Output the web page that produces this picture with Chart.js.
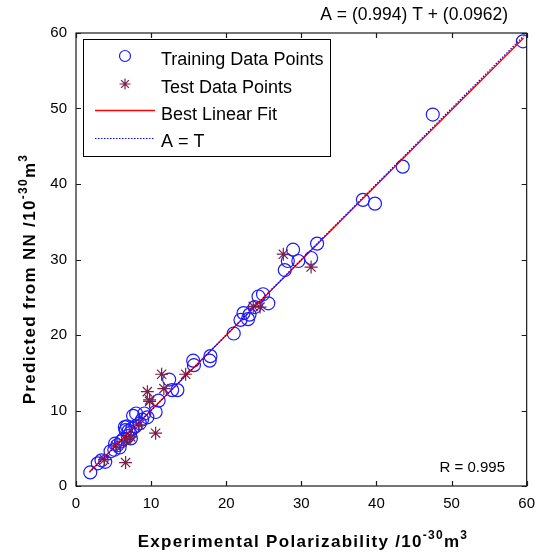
<!DOCTYPE html>
<html>
<head>
<meta charset="utf-8">
<script src="https://cdn.jsdelivr.net/npm/chart.js@4"></script>
<style>
  html, body { margin: 0; padding: 0; background: #fff; }
  #wrap { width: 544px; height: 554px; }
</style>
</head>
<body>
<div id="wrap"><canvas id="regChart" width="544" height="554"></canvas></div>
<script>
// Training data: experimental (T) vs predicted (A)
const trainT = [1.9, 2.9, 3.4, 3.9, 4.6, 5.1, 5.2, 5.5, 5.8, 6.0, 6.3, 6.5, 6.6, 6.8, 6.9, 7.0, 7.2, 7.3, 7.5, 7.6, 7.9, 8.0, 8.5, 8.8, 9.1, 9.5,
  10.6, 11.0, 12.4, 12.8, 13.5, 15.6, 15.7, 17.8, 17.9, 21.0, 21.9, 22.3, 22.9, 23.1, 23.8, 24.3, 24.9, 25.6,
  27.8, 28.2, 28.9, 29.6, 31.3, 32.1, 38.2, 39.8, 43.5, 47.5, 59.5];
const trainA = [1.8, 3.0, 3.4, 3.2, 4.6, 4.8, 5.6, 5.4, 5.1, 5.9, 6.2, 7.8, 7.4, 7.9, 6.6, 7.3, 7.0, 6.3, 7.6, 9.3, 7.9, 9.6, 8.3, 8.8, 9.6, 9.1,
  9.8, 11.3, 14.1, 12.7, 12.7, 16.6, 16.0, 16.6, 17.2, 20.2, 22.0, 22.9, 22.1, 22.7, 23.7, 25.1, 25.4, 24.2,
  28.6, 29.8, 31.3, 29.8, 30.2, 32.1, 37.9, 37.4, 42.3, 49.2, 58.9];

// Test data
const testT = [3.8, 5.3, 6.6, 6.7, 7.3, 8.4, 9.5, 9.8, 9.8, 10.6, 11.4, 11.7, 14.6, 23.6, 24.5, 27.6, 31.3];
const testA = [3.5, 5.3, 3.1, 6.1, 6.5, 8.1, 12.5, 11.4, 11.2, 7.0, 14.8, 12.9, 14.8, 23.8, 23.7, 30.7, 29.0];

// Regression result
const fitSlope = 0.994;
const fitIntercept = 0.0962;
const fitRange = [1.8, 59.6];
const rValue = 0.995;

const xTicks = [0, 10, 20, 30, 40, 50, 60];
const yTicks = [0, 10, 20, 30, 40, 50, 60];

const legendLabels = ["Training Data Points", "Test Data Points", "Best Linear Fit", "A = T"];

const FONT = "'Liberation Sans', Arial, Helvetica, sans-serif";
const trainColor = "#1a1aff";
const testColor = "#7a1f4a";

function toPoints(xs, ys) {
    return xs.map((x, i) => ({ x: x, y: ys[i] }));
}

// draw bold text with superscript pieces, centred on x
function drawRich(ctx, parts, x, y) {
    ctx.letterSpacing = "1.3px";
    let total = 0;
    parts.forEach(p => {
        ctx.font = `bold ${p.size}px ${FONT}`;
        total += ctx.measureText(p.text).width;
    });
    let cx = x - total / 2;
    ctx.textAlign = "left";
    ctx.textBaseline = "alphabetic";
    parts.forEach(p => {
        ctx.font = `bold ${p.size}px ${FONT}`;
        ctx.fillText(p.text, cx, y - (p.rise || 0));
        cx += ctx.measureText(p.text).width;
    });
    ctx.letterSpacing = "0px";
}

const decorPlugin = {
    id: "decor",
    afterDraw(chart) {
        const ctx = chart.ctx;
        const area = chart.chartArea;
        const xs = chart.scales.x;
        const ys = chart.scales.y;
        ctx.save();

        // frame and inward ticks
        ctx.strokeStyle = "#1a1a1a";
        ctx.lineWidth = 1.2;
        ctx.strokeRect(area.left, area.top, area.right - area.left, area.bottom - area.top);
        ctx.beginPath();
        xTicks.forEach(v => {
            const px = Math.round(xs.getPixelForValue(v)) + 0.5;
            ctx.moveTo(px, area.bottom); ctx.lineTo(px, area.bottom - 5);
            ctx.moveTo(px, area.top); ctx.lineTo(px, area.top + 5);
        });
        yTicks.forEach(v => {
            const py = Math.round(ys.getPixelForValue(v)) + 0.5;
            ctx.moveTo(area.left, py); ctx.lineTo(area.left + 5, py);
            ctx.moveTo(area.right, py); ctx.lineTo(area.right - 5, py);
        });
        ctx.stroke();

        // legend box
        const lx = 83, ly = 39, lw = 247, lh = 117;
        ctx.fillStyle = "#fff";
        ctx.fillRect(lx, ly, lw, lh);
        ctx.strokeStyle = "#000";
        ctx.lineWidth = 1;
        ctx.strokeRect(lx + 0.5, ly + 0.5, lw, lh);
        const markRows = [56, 84, 110, 138];
        const textRows = [65, 92.5, 119.5, 146.5];
        // circle marker
        ctx.strokeStyle = trainColor;
        ctx.lineWidth = 1.2;
        ctx.beginPath();
        ctx.arc(125, markRows[0], 5.5, 0, Math.PI * 2);
        ctx.stroke();
        // star marker
        ctx.strokeStyle = testColor;
        ctx.beginPath();
        const r = 5.5, d = r * Math.SQRT1_2;
        ctx.moveTo(125 - r, markRows[1]); ctx.lineTo(125 + r, markRows[1]);
        ctx.moveTo(125, markRows[1] - r); ctx.lineTo(125, markRows[1] + r);
        ctx.moveTo(125 - d, markRows[1] - d); ctx.lineTo(125 + d, markRows[1] + d);
        ctx.moveTo(125 - d, markRows[1] + d); ctx.lineTo(125 + d, markRows[1] - d);
        ctx.stroke();
        // fit line sample
        ctx.strokeStyle = "#ff0000";
        ctx.lineWidth = 1.3;
        ctx.beginPath();
        ctx.moveTo(95, markRows[2] + 0.5); ctx.lineTo(155, markRows[2] + 0.5);
        ctx.stroke();
        // A = T sample
        ctx.strokeStyle = "#0000ff";
        ctx.lineWidth = 1.2;
        ctx.setLineDash([1.5, 1.5]);
        ctx.beginPath();
        ctx.moveTo(95, markRows[3] + 0.5); ctx.lineTo(155, markRows[3] + 0.5);
        ctx.stroke();
        ctx.setLineDash([]);

        ctx.fillStyle = "#000";
        ctx.font = `18px ${FONT}`;
        ctx.textAlign = "left";
        ctx.textBaseline = "alphabetic";
        legendLabels.forEach((t, i) => ctx.fillText(t, 161, textRows[i]));

        // R value and fit equation
        ctx.font = `15px ${FONT}`;
        ctx.textAlign = "right";
        ctx.textBaseline = "middle";
        ctx.fillText("R = " + rValue.toFixed(3), 505, 468);
        ctx.font = `17.5px ${FONT}`;
        ctx.fillText(`A = (${fitSlope}) T + (${fitIntercept})`, 508, 15);

        // axis titles with superscripts
        ctx.fillStyle = "#000";
        drawRich(ctx, [
            { text: "Experimental Polarizability /10", size: 17 },
            { text: "-30", size: 12, rise: 8 },
            { text: "m", size: 17 },
            { text: "3", size: 12, rise: 8 }
        ], 303, 547);
        ctx.save();
        ctx.translate(35, 279);
        ctx.rotate(-Math.PI / 2);
        drawRich(ctx, [
            { text: "Predicted from NN /10", size: 17 },
            { text: "-30", size: 12, rise: 8 },
            { text: "m", size: 17 },
            { text: "3", size: 12, rise: 8 }
        ], 0, 0);
        ctx.restore();

        ctx.restore();
    }
};

const fitLine = fitRange.map(t => ({ x: t, y: fitSlope * t + fitIntercept }));
const idLine = fitRange.map(t => ({ x: t, y: t }));

new Chart(document.getElementById("regChart"), {
    type: "scatter",
    data: {
        datasets: [
            {
                label: legendLabels[0],
                data: toPoints(trainT, trainA),
                pointStyle: "circle",
                pointRadius: 6.5,
                borderColor: trainColor,
                backgroundColor: "rgba(0,0,0,0)",
                borderWidth: 1.2,
                order: 4
            },
            {
                label: legendLabels[1],
                data: toPoints(testT, testA),
                pointStyle: "star",
                pointRadius: 6.5,
                borderColor: testColor,
                backgroundColor: testColor,
                borderWidth: 1.2,
                order: 3
            },
            {
                label: legendLabels[2],
                data: fitLine,
                showLine: true,
                pointRadius: 0,
                borderColor: "#ff0000",
                borderWidth: 1.3,
                order: 2
            },
            {
                label: legendLabels[3],
                data: idLine,
                showLine: true,
                pointRadius: 0,
                borderColor: "#0000ff",
                borderWidth: 1.2,
                borderDash: [1.5, 1.5],
                order: 1
            }
        ]
    },
    options: {
        responsive: false,
        animation: false,
        layout: { padding: { left: 0, top: 33, right: 13, bottom: 0 } },
        plugins: {
            legend: { display: false },
            tooltip: { enabled: false }
        },
        scales: {
            x: {
                type: "linear",
                min: 0,
                max: 60,
                afterFit: scale => { scale.height = 68; },
                afterBuildTicks: scale => { scale.ticks = xTicks.map(v => ({ value: v })); },
                grid: { display: false, drawTicks: false },
                border: { display: false },
                ticks: { padding: 9, color: "#000", font: { family: FONT, size: 15 } }
            },
            y: {
                type: "linear",
                min: 0,
                max: 60,
                afterFit: scale => { scale.width = 76; },
                afterBuildTicks: scale => { scale.ticks = yTicks.map(v => ({ value: v })); },
                grid: { display: false, drawTicks: false },
                border: { display: false },
                ticks: { padding: 9, color: "#000", font: { family: FONT, size: 15 } }
            }
        }
    },
    plugins: [decorPlugin]
});
</script>
</body>
</html>
